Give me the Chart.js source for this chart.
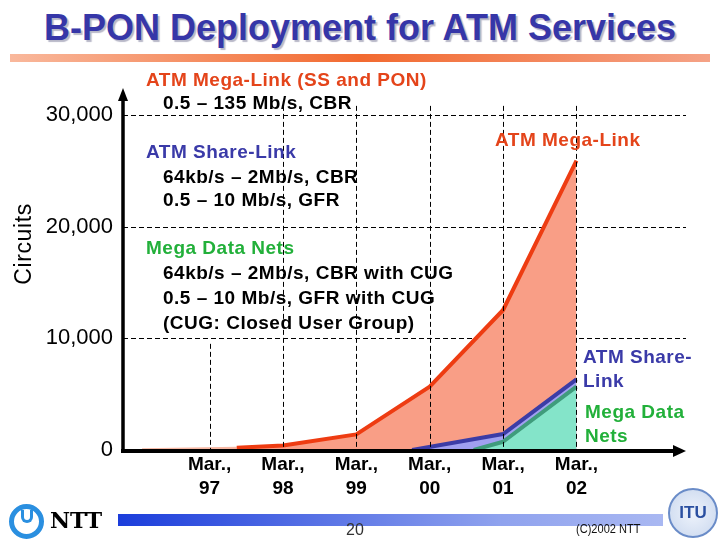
<!DOCTYPE html>
<html>
<head>
<meta charset="utf-8">
<script src="https://cdn.jsdelivr.net/npm/chart.js@4.4.1/dist/chart.umd.min.js"></script>
<style>
  body { margin: 0; width: 720px; height: 540px; position: relative; overflow: hidden; background: #fff;
         font-family: "Liberation Sans", Arial, sans-serif; }
  #chart { position: absolute; left: 0; top: 0; }
  .title { position: absolute; left: 0; width: 720px; top: 7px; text-align: center; font-weight: bold;
           font-size: 36px; line-height: 42px; color: #3636a8; text-shadow: 2px 2px 1px #b8b8c8; }
  .topbar { position: absolute; left: 10px; width: 700px; top: 54px; height: 8px;
            background: linear-gradient(to right, #f9b89c, #f26a30 50%, #f5a286); }
  .note { position: absolute; font-weight: bold; font-size: 19px; line-height: 24px; letter-spacing: 0.5px;
          white-space: nowrap; color: #000; }
  .red { color: #e4441a; }
  .blue { color: #3a3aa8; }
  .green { color: #22b03a; }
  .ytitle { position: absolute; left: 23px; top: 244px; font-size: 23px; letter-spacing: 0.6px;
            transform: translate(-50%, -50%) rotate(-90deg); white-space: nowrap; }
  .footbar { position: absolute; left: 118px; width: 545px; top: 514px; height: 12px;
             background: linear-gradient(to right, #1b3ddb, #8fa2ee 70%, #a9b8f2); }
  .page { position: absolute; left: 346px; top: 521px; font-size: 16px; color: #333; }
  .copy { position: absolute; left: 576px; top: 521px; font-size: 13px; color: #111; transform: scaleX(0.85); transform-origin: left; }
  .nttlogo { position: absolute; left: 9px; top: 504px; width: 25px; height: 25px; border: 5px solid #2a8fe0; border-radius: 50%; }
  .nttlogo::after { content: ""; position: absolute; left: 7px; top: 1px; width: 6px; height: 10px;
                    border: 3px solid #2a8fe0; border-top: none; border-radius: 0 0 6px 6px; }
  .ntt { position: absolute; left: 50px; top: 507px; font-family: "DejaVu Serif", serif; font-weight: bold; font-size: 22px; }
  .itu { position: absolute; left: 668px; top: 488px; width: 46px; height: 46px; border-radius: 50%;
         border: 2px solid #6a8cc8; background: radial-gradient(circle, #eef3fb, #c9d7ee); color: #2a4fa0;
         font-weight: bold; font-size: 17px; line-height: 46px; text-align: center; }
</style>
</head>
<body>
<div class="title">B-PON Deployment for ATM Services</div>
<div class="topbar"></div>
<canvas id="chart" width="720" height="540"></canvas>
<div class="ytitle">Circuits</div>

<div class="note red" style="left:146px; top:68px;">ATM Mega-Link (SS and PON)</div>
<div class="note" style="left:163px; top:91px;">0.5 – 135 Mb/s, CBR</div>
<div class="note blue" style="left:146px; top:140px;">ATM Share-Link</div>
<div class="note" style="left:163px; top:165px;">64kb/s – 2Mb/s, CBR</div>
<div class="note" style="left:163px; top:188px;">0.5 – 10 Mb/s, GFR</div>
<div class="note green" style="left:146px; top:236px;">Mega Data Nets</div>
<div class="note" style="left:163px; top:261px;">64kb/s – 2Mb/s, CBR with CUG</div>
<div class="note" style="left:163px; top:286px;">0.5 – 10 Mb/s, GFR with CUG</div>
<div class="note" style="left:163px; top:311px;">(CUG: Closed User Group)</div>

<div class="note red" style="left:495px; top:128px;">ATM Mega-Link</div>
<div class="note blue" style="left:583px; top:345px;">ATM Share-<br>Link</div>
<div class="note green" style="left:585px; top:400px;">Mega Data<br>Nets</div>

<div class="nttlogo"></div>
<div class="ntt">NTT</div>
<div class="footbar"></div>
<div class="page">20</div>
<div class="copy">(C)2002 NTT</div>
<div class="itu">ITU</div>

<script>
// x positions are years (March of each year on the ticks)
const yearTicks = [1997, 1998, 1999, 2000, 2001, 2002];
const yearLabels = ["97", "98", "99", "00", "01", "02"];
const valueTicks = [0, 10000, 20000, 30000];

// top edge of each stacked band, in circuits
const megaLinkX = [1996.08, 1997.37, 1998, 1999, 2000, 2001, 2002];
const megaLinkY = [60, 200, 400, 1400, 5670, 12530, 25900];
const shareLinkX = [1999.76, 2001, 2002];
const shareLinkY = [0, 1430, 6330];
const dataNetsX = [2000.6, 2001, 2002];
const dataNetsY = [0, 740, 5670];

const toPoints = (xs, ys) => xs.map((x, i) => ({ x, y: ys[i] }));

Chart.defaults.font.family = '"Liberation Sans", Arial, sans-serif';
Chart.defaults.color = "#000";

// dashed grid, thick axes with arrow heads
const gridAndAxes = {
	id: "gridAndAxes",
	beforeDatasetsDraw(chart) {
		const { ctx, chartArea, scales } = chart;
		ctx.save();
		ctx.strokeStyle = "#000";
		ctx.lineWidth = 1;
		ctx.setLineDash([5, 3]);
		valueTicks.slice(1).forEach((v) => {
			const py = Math.round(scales.y.getPixelForValue(v)) + 0.5;
			ctx.beginPath();
			ctx.moveTo(chartArea.left, py);
			ctx.lineTo(chartArea.right - 2, py);
			ctx.stroke();
		});
		ctx.restore();
	},
	afterDatasetsDraw(chart) {
		const { ctx, chartArea, scales } = chart;
		const y0 = scales.y.getPixelForValue(0);
		ctx.save();
		ctx.strokeStyle = "#000";
		ctx.lineWidth = 1;
		ctx.setLineDash([5, 3]);
		yearTicks.forEach((yr, i) => {
			const px = Math.round(scales.x.getPixelForValue(yr)) + 0.5;
			const top = scales.y.getPixelForValue(i === 0 ? 9500 : 30800);
			ctx.beginPath();
			ctx.moveTo(px, top);
			ctx.lineTo(px, y0);
			ctx.stroke();
		});
		ctx.setLineDash([]);
		ctx.fillStyle = "#000";
		// y axis
		ctx.lineWidth = 3.5;
		ctx.beginPath();
		ctx.moveTo(chartArea.left, y0 + 2);
		ctx.lineTo(chartArea.left, chartArea.top + 10);
		ctx.stroke();
		ctx.beginPath();
		ctx.moveTo(chartArea.left, chartArea.top);
		ctx.lineTo(chartArea.left - 5, chartArea.top + 13);
		ctx.lineTo(chartArea.left + 5, chartArea.top + 13);
		ctx.closePath();
		ctx.fill();
		// x axis
		ctx.lineWidth = 4;
		ctx.beginPath();
		ctx.moveTo(chartArea.left - 2, y0 + 1);
		ctx.lineTo(chartArea.right - 12, y0 + 1);
		ctx.stroke();
		ctx.beginPath();
		ctx.moveTo(chartArea.right - 2, y0 + 1);
		ctx.lineTo(chartArea.right - 15, y0 - 5);
		ctx.lineTo(chartArea.right - 15, y0 + 7);
		ctx.closePath();
		ctx.fill();
		ctx.restore();
	},
};

new Chart(document.getElementById("chart"), {
	type: "line",
	data: {
		datasets: [
			{
				label: "Mega Data Nets",
				data: toPoints(dataNetsX, dataNetsY),
				borderColor: "#3f9c7c",
				backgroundColor: "#84e4c9",
				borderWidth: 4,
				fill: "origin",
			},
			{
				label: "ATM Share-Link",
				data: toPoints(shareLinkX, shareLinkY),
				borderColor: "#3c3ca6",
				backgroundColor: "#a0a0f0",
				borderWidth: 4,
				fill: "origin",
			},
			{
				label: "ATM Mega-Link",
				data: toPoints(megaLinkX, megaLinkY),
				borderColor: "#ee3c12",
				backgroundColor: "#f99e86",
				borderWidth: 4,
				fill: "origin",
				segment: {
					borderColor: (c) => (c.p1.parsed.x <= megaLinkX[1] ? "#f7b8a4" : undefined),
					borderWidth: (c) => (c.p1.parsed.x <= megaLinkX[1] ? 2 : undefined),
				},
			},
		],
	},
	options: {
		responsive: false,
		animation: false,
		elements: { point: { radius: 0 }, line: { tension: 0, borderJoinStyle: "round" } },
		layout: { padding: { top: 88, right: 32, bottom: 30, left: 0 } },
		plugins: { legend: { display: false }, tooltip: { enabled: false } },
		scales: {
			x: {
				type: "linear",
				min: 1995.82,
				max: 2003.52,
				grid: { display: false, drawTicks: false },
				border: { display: false },
				afterFit: (scale) => { scale.height = 60; },
				afterBuildTicks: (scale) => { scale.ticks = yearTicks.map((v) => ({ value: v })); },
				ticks: {
					padding: 2,
					maxRotation: 0,
					autoSkip: false,
					font: { size: 19, weight: "bold", lineHeight: 1.3 },
					callback: (v) => ["Mar.,", yearLabels[yearTicks.indexOf(v)]],
				},
			},
			y: {
				min: 0,
				max: 32400,
				grid: { display: false, drawTicks: false },
				border: { display: false },
				afterFit: (scale) => { scale.width = 123; },
				afterBuildTicks: (scale) => { scale.ticks = valueTicks.map((v) => ({ value: v })); },
				ticks: {
					padding: 10,
					font: { size: 22 },
					callback: (v) => v.toLocaleString("en-US"),
				},
			},
		},
	},
	plugins: [gridAndAxes],
});
</script>
</body>
</html>
